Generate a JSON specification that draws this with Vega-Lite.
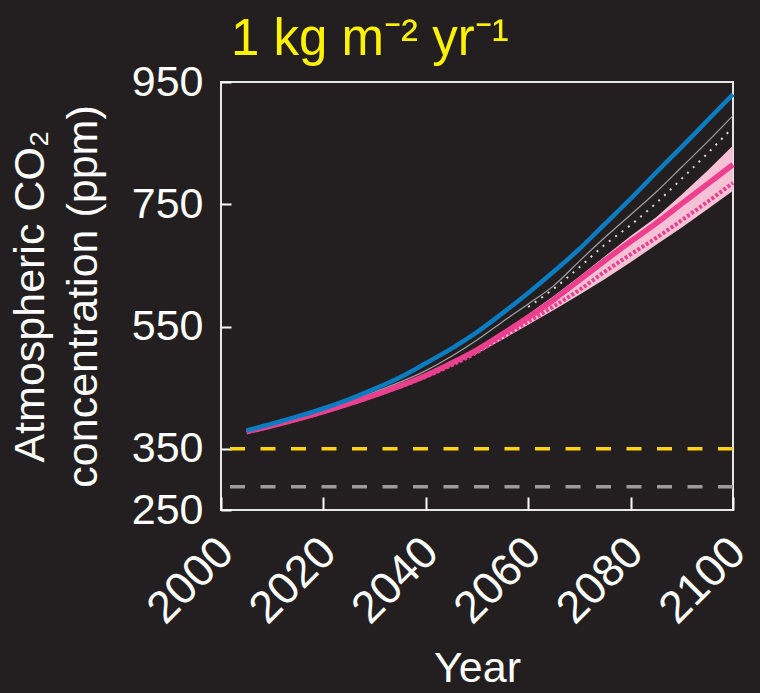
{
  "$schema": "https://vega.github.io/schema/vega-lite/v6.json",
  "autosize": "none",
  "width": 512,
  "height": 428,
  "padding": {"left": 221, "top": 82, "right": 27, "bottom": 183},
  "background": "#231F20",
  "title": {
    "text": "1 kg m⁻² yr⁻¹",
    "color": "#FFF200",
    "fontSize": 51,
    "font": "Liberation Sans",
    "fontWeight": "normal",
    "anchor": "start",
    "frame": "group",
    "baseline": "alphabetic",
    "offset": 16,
    "dx": 10,
    "dy": 61
  },
  "config": {
    "view": {"stroke": "#E6E6E6", "strokeWidth": 2},
    "font": "Liberation Sans",
    "axis": {
      "domain": false,
      "grid": false,
      "tickColor": "#FFFFFF",
      "tickWidth": 2,
      "labelColor": "#FFFFFF",
      "titleColor": "#FFFFFF",
      "labelFont": "Liberation Sans",
      "titleFont": "Liberation Sans",
      "labelFontSize": 43,
      "titleFontSize": 43,
      "titleFontWeight": "normal",
      "labelOverlap": false
    }
  },
  "datasets": {
    "lines": [
      {"year": 2005, "series": "blue", "ppm": 380},
      {"year": 2010, "series": "blue", "ppm": 391},
      {"year": 2015, "series": "blue", "ppm": 403},
      {"year": 2020, "series": "blue", "ppm": 416},
      {"year": 2025, "series": "blue", "ppm": 431},
      {"year": 2030, "series": "blue", "ppm": 448},
      {"year": 2035, "series": "blue", "ppm": 467},
      {"year": 2040, "series": "blue", "ppm": 490},
      {"year": 2045, "series": "blue", "ppm": 514},
      {"year": 2050, "series": "blue", "ppm": 541},
      {"year": 2055, "series": "blue", "ppm": 572},
      {"year": 2060, "series": "blue", "ppm": 605},
      {"year": 2065, "series": "blue", "ppm": 640},
      {"year": 2070, "series": "blue", "ppm": 677},
      {"year": 2075, "series": "blue", "ppm": 718},
      {"year": 2080, "series": "blue", "ppm": 759},
      {"year": 2085, "series": "blue", "ppm": 802},
      {"year": 2090, "series": "blue", "ppm": 844},
      {"year": 2095, "series": "blue", "ppm": 887},
      {"year": 2100, "series": "blue", "ppm": 930},

      {"year": 2005, "series": "pink", "ppm": 378},
      {"year": 2010, "series": "pink", "ppm": 388},
      {"year": 2015, "series": "pink", "ppm": 399},
      {"year": 2020, "series": "pink", "ppm": 411},
      {"year": 2025, "series": "pink", "ppm": 424},
      {"year": 2030, "series": "pink", "ppm": 438},
      {"year": 2035, "series": "pink", "ppm": 453},
      {"year": 2040, "series": "pink", "ppm": 470},
      {"year": 2045, "series": "pink", "ppm": 490},
      {"year": 2050, "series": "pink", "ppm": 512},
      {"year": 2055, "series": "pink", "ppm": 538},
      {"year": 2060, "series": "pink", "ppm": 565},
      {"year": 2065, "series": "pink", "ppm": 594},
      {"year": 2070, "series": "pink", "ppm": 626},
      {"year": 2075, "series": "pink", "ppm": 658},
      {"year": 2080, "series": "pink", "ppm": 689},
      {"year": 2085, "series": "pink", "ppm": 719},
      {"year": 2090, "series": "pink", "ppm": 751},
      {"year": 2095, "series": "pink", "ppm": 783},
      {"year": 2100, "series": "pink", "ppm": 815},

      {"year": 2005, "series": "pinkdot", "ppm": 377},
      {"year": 2020, "series": "pinkdot", "ppm": 410},
      {"year": 2030, "series": "pinkdot", "ppm": 437},
      {"year": 2040, "series": "pinkdot", "ppm": 468},
      {"year": 2050, "series": "pinkdot", "ppm": 508},
      {"year": 2055, "series": "pinkdot", "ppm": 533},
      {"year": 2060, "series": "pinkdot", "ppm": 558},
      {"year": 2065, "series": "pinkdot", "ppm": 583},
      {"year": 2070, "series": "pinkdot", "ppm": 610},
      {"year": 2075, "series": "pinkdot", "ppm": 640},
      {"year": 2080, "series": "pinkdot", "ppm": 668},
      {"year": 2085, "series": "pinkdot", "ppm": 695},
      {"year": 2090, "series": "pinkdot", "ppm": 724},
      {"year": 2095, "series": "pinkdot", "ppm": 754},
      {"year": 2100, "series": "pinkdot", "ppm": 785},

      {"year": 2005, "series": "gray", "ppm": 379},
      {"year": 2020, "series": "gray", "ppm": 414},
      {"year": 2030, "series": "gray", "ppm": 443},
      {"year": 2040, "series": "gray", "ppm": 478},
      {"year": 2050, "series": "gray", "ppm": 528},
      {"year": 2055, "series": "gray", "ppm": 558},
      {"year": 2060, "series": "gray", "ppm": 587},
      {"year": 2065, "series": "gray", "ppm": 617},
      {"year": 2070, "series": "gray", "ppm": 657},
      {"year": 2075, "series": "gray", "ppm": 696},
      {"year": 2080, "series": "gray", "ppm": 733},
      {"year": 2085, "series": "gray", "ppm": 770},
      {"year": 2090, "series": "gray", "ppm": 811},
      {"year": 2095, "series": "gray", "ppm": 852},
      {"year": 2100, "series": "gray", "ppm": 895},

      {"year": 2060, "series": "whitedot", "ppm": 582},
      {"year": 2065, "series": "whitedot", "ppm": 612},
      {"year": 2070, "series": "whitedot", "ppm": 647},
      {"year": 2075, "series": "whitedot", "ppm": 684},
      {"year": 2080, "series": "whitedot", "ppm": 716},
      {"year": 2085, "series": "whitedot", "ppm": 752},
      {"year": 2090, "series": "whitedot", "ppm": 792},
      {"year": 2095, "series": "whitedot", "ppm": 833},
      {"year": 2100, "series": "whitedot", "ppm": 876}
    ],
    "band": [
      {"year": 2045, "lo": 489, "hi": 491},
      {"year": 2050, "lo": 506, "hi": 514},
      {"year": 2055, "lo": 529, "hi": 541},
      {"year": 2060, "lo": 553, "hi": 570},
      {"year": 2065, "lo": 577, "hi": 600},
      {"year": 2070, "lo": 602, "hi": 632},
      {"year": 2075, "lo": 628, "hi": 665},
      {"year": 2080, "lo": 655, "hi": 698},
      {"year": 2085, "lo": 684, "hi": 729},
      {"year": 2090, "lo": 712, "hi": 766},
      {"year": 2095, "lo": 742, "hi": 805},
      {"year": 2100, "lo": 772, "hi": 846}
    ],
    "refs": [
      {"level": 350, "kind": "yellow"},
      {"level": 288, "kind": "gray"}
    ]
  },
  "encoding": {
    "x": {
      "field": "year",
      "type": "quantitative",
      "scale": {"domain": [2000, 2100], "nice": false, "zero": false},
      "axis": {
        "title": "Year",
        "values": [2000, 2020, 2040, 2060, 2080, 2100],
        "format": "d",
        "labelAngle": -45,
        "labelAlign": "right",
        "labelBaseline": "top",
        "labelFontSize": 45,
        "tickSize": -13,
        "labelPadding": 32,
        "labelOffset": -11,
        "titlePadding": 16
      }
    }
  },
  "layer": [
    {
      "data": {"name": "refs"},
      "transform": [{"filter": "datum.kind == 'yellow'"}],
      "mark": {"type": "rule", "color": "#FFD20F", "strokeWidth": 3.5, "strokeDash": [15, 15.5], "strokeCap": "butt"},
      "encoding": {
        "x": null,
        "y": {"field": "level", "type": "quantitative"}
      }
    },
    {
      "data": {"name": "refs"},
      "transform": [{"filter": "datum.kind == 'gray'"}],
      "mark": {"type": "rule", "color": "#9B9B9B", "strokeWidth": 3.5, "strokeDash": [15, 15.5], "strokeCap": "butt"},
      "encoding": {
        "x": null,
        "y": {"field": "level", "type": "quantitative"}
      }
    },
    {
      "data": {"name": "band"},
      "mark": {"type": "area", "color": "#F6C0D5", "opacity": 1},
      "encoding": {
        "y": {"field": "lo", "type": "quantitative"},
        "y2": {"field": "hi"}
      }
    },
    {
      "data": {"name": "lines"},
      "transform": [{"filter": "datum.series == 'gray'"}],
      "mark": {"type": "line", "color": "#A0A0A0", "strokeWidth": 1.2, "interpolate": "monotone"},
      "encoding": {"y": {"field": "ppm", "type": "quantitative"}}
    },
    {
      "data": {"name": "lines"},
      "transform": [{"filter": "datum.series == 'whitedot'"}],
      "mark": {"type": "line", "color": "#D8D8D8", "strokeWidth": 2, "strokeDash": [2, 6], "interpolate": "monotone"},
      "encoding": {"y": {"field": "ppm", "type": "quantitative"}}
    },
    {
      "data": {"name": "lines"},
      "transform": [{"filter": "datum.series == 'pink'"}],
      "mark": {"type": "line", "color": "#EE3F8E", "strokeWidth": 5.5, "interpolate": "monotone"},
      "encoding": {"y": {"field": "ppm", "type": "quantitative"}}
    },
    {
      "data": {"name": "lines"},
      "transform": [{"filter": "datum.series == 'pinkdot'"}],
      "mark": {"type": "line", "color": "#E8408C", "strokeWidth": 4, "strokeDash": [3, 2], "interpolate": "monotone"},
      "encoding": {"y": {"field": "ppm", "type": "quantitative"}}
    },
    {
      "data": {"name": "lines"},
      "transform": [{"filter": "datum.series == 'blue'"}],
      "mark": {"type": "line", "color": "#0A7CC1", "strokeWidth": 4.5, "interpolate": "monotone"},
      "encoding": {
        "y": {
          "field": "ppm",
          "type": "quantitative",
          "scale": {"domain": [250, 950], "nice": false, "zero": false},
          "axis": {
            "title": ["Atmospheric CO₂", "concentration (ppm)"],
            "values": [250, 350, 550, 750, 950],
            "tickSize": -10,
            "labelPadding": 28,
            "titlePadding": 26,
            "titleLineHeight": 53
          }
        }
      }
    }
  ]
}
